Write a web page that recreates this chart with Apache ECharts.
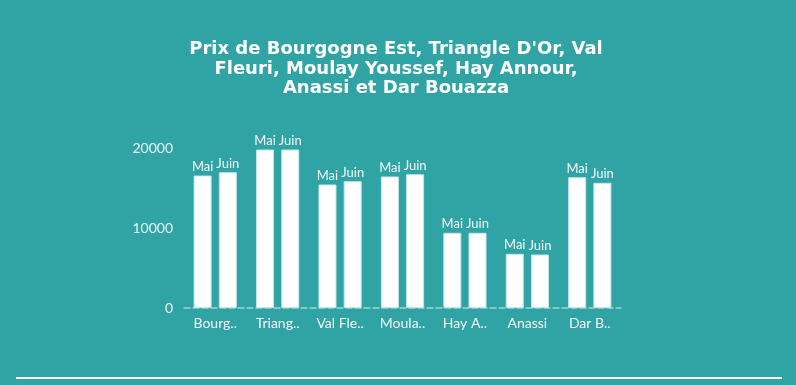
<!DOCTYPE html>
<html><head><meta charset="utf-8">
<script src="https://cdn.jsdelivr.net/npm/echarts@6/dist/echarts.min.js"></script>
<style>html,body{margin:0;padding:0;background:#30a4a4;}#c{width:796px;height:385px;}</style>
</head><body><div id="c"></div>
<script>
var categories = ["Bourgogne Est", "Triangle D'Or", "Val Fleuri", "Moulay Youssef", "Hay Annour", "Anassi", "Dar Bouazza"];
var xTickLabels = ["Bourg..", "Triang..", "Val Fle..", "Moula..", "Hay A..", "Anassi", "Dar B.."];
var maiValues = [16560, 19810, 15440, 16440, 9400, 6775, 16350];
var juinValues = [16975, 19810, 15850, 16725, 9400, 6690, 15650];
var yTicks = [0, 10000, 20000];
var seriesNames = ["Mai", "Juin"];

var chart = echarts.init(document.getElementById('c'));
function barSeries(name, data) {
  return {
    name: name, type: 'bar', data: data,
    barWidth: 18, barGap: '40%',
    itemStyle: { color: '#ffffff', borderColor: '#c4e6e6', borderWidth: 1 },
    label: { show: true, position: 'top', distance: 2, formatter: name, color: '#f2fafa',
      fontFamily: 'Lato', fontSize: 13 }
  };
}
chart.setOption({
  backgroundColor: '#30a4a4',
  title: {
    text: "Prix de Bourgogne Est, Triangle D'Or, Val\nFleuri, Moulay Youssef, Hay Annour,\nAnassi et Dar Bouazza",
    left: 391, top: 35, textAlign: 'center',
    textStyle: { color: '#ffffff', fontFamily: 'DejaVu Sans', fontWeight: 'bold', fontSize: 18, lineHeight: 19.5 }
  },
  grid: { left: 184, width: 437, top: 148, bottom: 77 },
  xAxis: {
    type: 'category', data: categories,
    axisLine: { show: true, lineStyle: { color: '#9fd4d4', type: 'dashed', width: 1.5 } },
    axisTick: { show: false },
    axisLabel: { color: '#f2fafa', fontFamily: 'Lato', fontSize: 14, margin: 8, interval: 0,
      formatter: function (v, i) { return xTickLabels[i]; } }
  },
  yAxis: {
    type: 'value', min: yTicks[0], max: yTicks[yTicks.length - 1], interval: 10000,
    splitLine: { show: false }, axisLine: { show: false }, axisTick: { show: false },
    axisLabel: { color: '#eaf6f6', fontFamily: 'Lato', fontSize: 14, margin: 11,
      formatter: function (v) { return String(v); } }
  },
  series: [barSeries(seriesNames[0], maiValues), barSeries(seriesNames[1], juinValues)],
  graphic: [{ type: 'rect', shape: { x: 16, y: 377, width: 766, height: 2 }, style: { fill: '#ffffff' } }]
});
</script></body></html>
